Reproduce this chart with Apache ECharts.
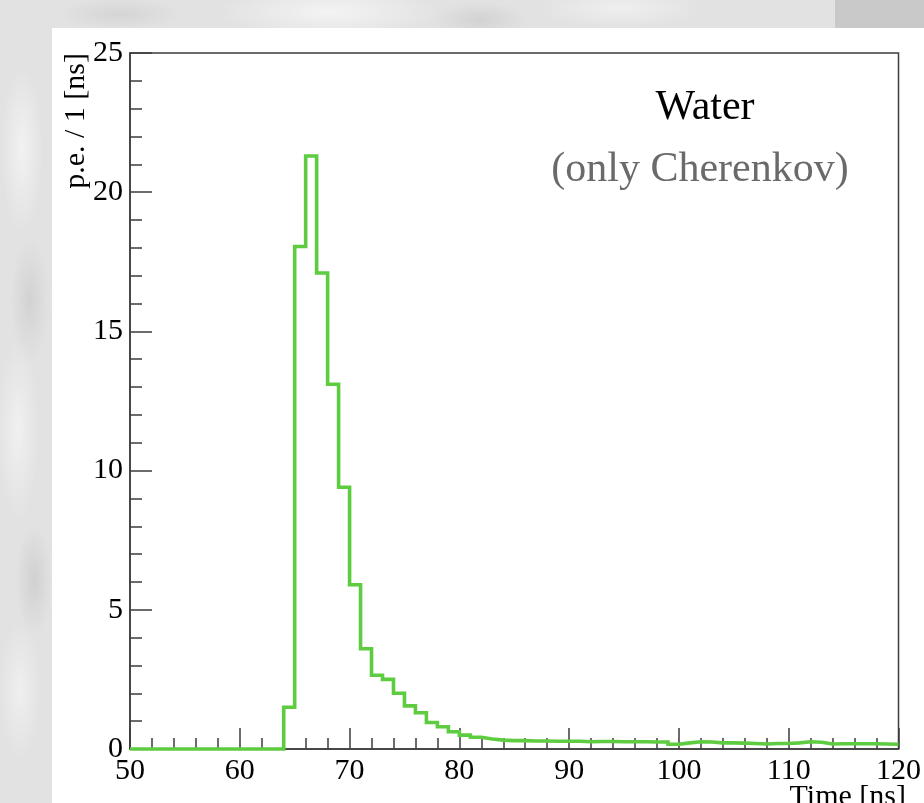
<!DOCTYPE html>
<html>
<head>
<meta charset="utf-8">
<title>Water (only Cherenkov) - photoelectron arrival time</title>
<script src="https://cdn.jsdelivr.net/npm/echarts@6/dist/echarts.min.js"></script>
<style>
  html, body { margin: 0; padding: 0; width: 924px; height: 803px; overflow: hidden; }
  body {
    background-color: #e2e2e2;
    background-image:
      radial-gradient(ellipse 160px 40px at 330px 12px, rgba(255,255,255,0.6), rgba(255,255,255,0) 70%),
      radial-gradient(ellipse 120px 30px at 620px 8px, rgba(255,255,255,0.45), rgba(255,255,255,0) 70%),
      radial-gradient(ellipse 90px 24px at 120px 14px, rgba(0,0,0,0.06), rgba(0,0,0,0) 70%),
      radial-gradient(ellipse 70px 26px at 480px 20px, rgba(0,0,0,0.07), rgba(0,0,0,0) 70%),
      radial-gradient(ellipse 30px 120px at 22px 150px, rgba(255,255,255,0.55), rgba(255,255,255,0) 70%),
      radial-gradient(ellipse 28px 90px at 30px 300px, rgba(0,0,0,0.07), rgba(0,0,0,0) 70%),
      radial-gradient(ellipse 30px 130px at 18px 430px, rgba(255,255,255,0.5), rgba(255,255,255,0) 70%),
      radial-gradient(ellipse 26px 80px at 34px 580px, rgba(0,0,0,0.08), rgba(0,0,0,0) 70%),
      radial-gradient(ellipse 30px 100px at 20px 690px, rgba(255,255,255,0.45), rgba(255,255,255,0) 70%);
  }
  #chart { width: 924px; height: 803px; }
</style>
</head>
<body>
<div id="chart"></div>
<script>
// Photoelectron arrival-time histogram, 1 ns bins from 50 ns to 120 ns
const binStart = 50;
const binWidth = 1;
const counts = [
  0, 0, 0, 0, 0, 0, 0, 0, 0, 0,          // 50-59
  0, 0, 0, 0, 1.5, 18.05, 21.3, 17.1, 13.1, 9.4,   // 60-69
  5.9, 3.6, 2.65, 2.5, 2.0, 1.55, 1.3, 0.95, 0.8, 0.62, // 70-79
  0.5, 0.42, 0.36, 0.32, 0.3, 0.3, 0.29, 0.29, 0.28, 0.28, // 80-89
  0.28, 0.26, 0.27, 0.27, 0.26, 0.26, 0.26, 0.25, 0.25, 0.17, // 90-99
  0.22, 0.26, 0.25, 0.22, 0.22, 0.21, 0.2, 0.18, 0.2, 0.2,   // 100-109
  0.22, 0.26, 0.24, 0.18, 0.19, 0.19, 0.19, 0.19, 0.18, 0.17 // 110-119
];
const xRange = [50, 120];
const yRange = [0, 25];
const xTitle = 'Time [ns]';
const yTitle = 'p.e. / 1 [ns]';
const mainLabel = 'Water';
const subLabel = '(only Cherenkov)';

// Step outline: each bin's value is held from its low edge to the next edge
const stepPoints = counts.map((v, i) => [binStart + i * binWidth, v]);
stepPoints.push([binStart + counts.length * binWidth, counts[counts.length - 1]]);

const serif = '"Liberation Serif", "DejaVu Serif", serif';
const axisColor = '#3c3c3c';
const lineGreen = '#5dcc40';

const chart = echarts.init(document.getElementById('chart'), null, { renderer: 'canvas' });

chart.setOption({
  backgroundColor: 'transparent',
  animation: false,
  grid: {
    left: 130, top: 53, right: 17, bottom: 54,
    show: true, borderColor: axisColor, borderWidth: 1.5, backgroundColor: 'transparent'
  },
  xAxis: {
    type: 'value',
    min: xRange[0], max: xRange[1], interval: 10,
    axisLine: { show: true, onZero: false, lineStyle: { color: axisColor, width: 1.5 } },
    axisTick: { show: true, inside: true, length: 21, lineStyle: { color: axisColor, width: 1.5 } },
    minorTick: { show: true, splitNumber: 5, length: 11, lineStyle: { color: axisColor, width: 1.5 } },
    splitLine: { show: false },
    axisLabel: { color: '#000', fontFamily: serif, fontSize: 30, margin: 7, showMaxLabel: true, hideOverlap: false }
  },
  yAxis: {
    type: 'value',
    min: yRange[0], max: yRange[1], interval: 5,
    axisLine: { show: true, onZero: false, lineStyle: { color: axisColor, width: 1.5 } },
    axisTick: { show: true, inside: true, length: 22, lineStyle: { color: axisColor, width: 1.5 } },
    minorTick: { show: true, splitNumber: 5, length: 12, lineStyle: { color: axisColor, width: 1.5 } },
    splitLine: { show: false },
    axisLabel: { color: '#000', fontFamily: serif, fontSize: 30, margin: 7 }
  },
  series: [{
    type: 'line',
    step: 'end',
    data: stepPoints,
    symbol: 'none',
    clip: false,
    lineStyle: { color: lineGreen, width: 3.6, join: 'miter', cap: 'butt' },
    z: 3
  }],
  graphic: [
    // white pad behind the frame
    { type: 'rect', z: -10, silent: true,
      shape: { x: 52, y: 28, width: 924 - 52, height: 803 - 28 },
      style: { fill: '#ffffff' } },
    // darker strip in the upper right corner of the backdrop
    { type: 'rect', z: -11, silent: true,
      shape: { x: 835, y: 0, width: 89, height: 28 },
      style: { fill: '#c9c9c9' } },
    { type: 'text', z: 10, silent: true,
      x: 705, y: 108,
      style: { text: mainLabel, fill: '#000', font: '42px ' + serif, align: 'center', verticalAlign: 'middle' } },
    { type: 'text', z: 10, silent: true,
      x: 700, y: 170,
      style: { text: subLabel, fill: '#6a6a6a', font: '42px ' + serif, align: 'center', verticalAlign: 'middle' } },
    { type: 'text', z: 10, silent: true,
      x: 906, y: 782,
      style: { text: xTitle, fill: '#000', font: '30px ' + serif, align: 'right', verticalAlign: 'top' } },
    { type: 'text', z: 10, silent: true,
      x: 76, y: 53, rotation: Math.PI / 2,
      style: { text: yTitle, fill: '#000', font: '30px ' + serif, align: 'right', verticalAlign: 'middle' } }
  ]
});
</script>
</body>
</html>
